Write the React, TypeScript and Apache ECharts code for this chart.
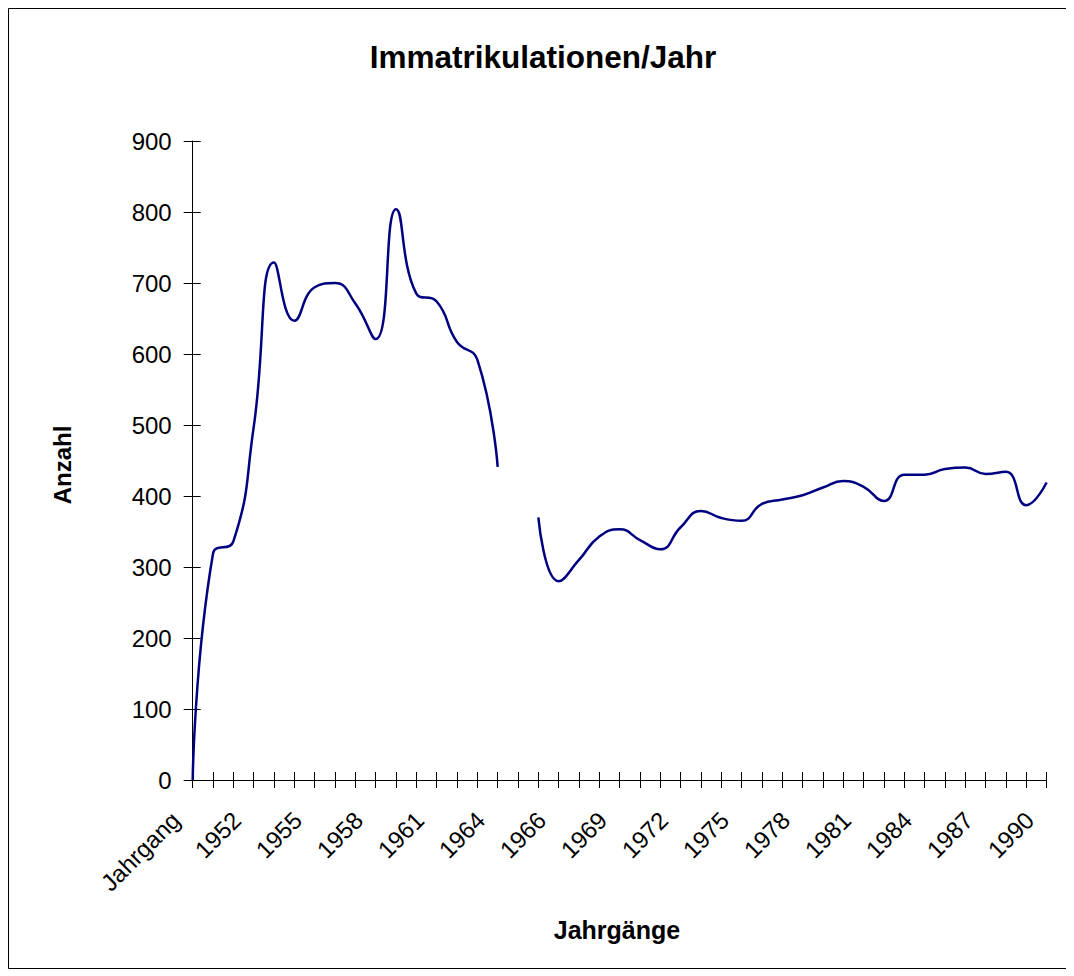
import React, { useEffect, useRef } from "react";
import * as echarts from "echarts";

const FONT = "'Liberation Sans', Arial, Helvetica, sans-serif";

const categories = [
  "Jahrgang", "1950", "1951", "1952", "1953", "1954", "1955", "1956", "1957", "1958",
  "1959", "1960", "1961", "1962", "1963", "1964", "", "1965", "1966", "1967",
  "1968", "1969", "1970", "1971", "1972", "1973", "1974", "1975", "1976", "1977",
  "1978", "1979", "1980", "1981", "1982", "1983", "1984", "1985", "1986", "1987",
  "1988", "1989", "1990",
];

const immatrikulationen: (number | null)[] = [
  0, 319, 336, 497, 729, 647, 694, 700, 671, 621,
  804, 685, 674, 617, 592, 441, null, 370, 280, 310,
  343, 353, 338, 325, 356, 379, 369, 365, 389, 395,
  401, 412, 421, 413, 393, 430, 430, 438, 440, 431,
  434, 387, 419,
];

const yMin = 0;
const yMax = 900;
const yStep = 100;

const titleText = "Immatrikulationen/Jahr";
const yTitle = "Anzahl";
const xTitle = "Jahrgänge";

export default function App() {
  const ref = useRef<HTMLDivElement>(null);
  useEffect(() => {
    if (!ref.current) return;
    const chart = echarts.init(ref.current, undefined, { renderer: "svg" });
    const axisBlack = { lineStyle: { color: "#000", width: 1 } };
    chart.setOption({
      animation: false,
      backgroundColor: "#fff",
      grid: { left: 184.7, right: 21.4, top: 133, bottom: 190, containLabel: false },
      graphic: [
        {
          type: "rect",
          shape: { x: 0.5, y: 0.5, width: 1058, height: 960 },
          style: { fill: "none", stroke: "#000", lineWidth: 1 },
          silent: true,
        },
        {
          type: "text",
          x: 535,
          y: 49,
          style: {
            text: titleText,
            fontFamily: FONT,
            fontSize: 31.5,
            fontWeight: "bold",
            fill: "#000",
            align: "center",
            verticalAlign: "middle",
          },
        },
        {
          type: "text",
          x: 54,
          y: 457,
          rotation: Math.PI / 2,
          style: {
            text: yTitle,
            fontFamily: FONT,
            fontSize: 24,
            fontWeight: "bold",
            fill: "#000",
            align: "center",
            verticalAlign: "middle",
          },
        },
        {
          type: "text",
          x: 609,
          y: 922,
          style: {
            text: xTitle,
            fontFamily: FONT,
            fontSize: 25,
            fontWeight: "bold",
            fill: "#000",
            align: "center",
            verticalAlign: "middle",
          },
        },
      ],
      xAxis: [
        {
          type: "category",
          position: "bottom",
          data: categories,
          boundaryGap: false,
          axisLine: { show: true, onZero: false, ...axisBlack },
          axisTick: { show: true, interval: 0, length: 8, inside: false, ...axisBlack },
          axisLabel: {
            interval: 2,
            rotate: 45,
            margin: 19,
            padding: [0, 24, 0, 0],
            color: "#000",
            fontFamily: FONT,
            fontSize: 24,
          },
          splitLine: { show: false },
        },
        {
          type: "category",
          position: "bottom",
          data: categories,
          boundaryGap: false,
          axisLine: { show: false, onZero: false },
          axisTick: { show: true, interval: 0, length: 8, inside: true, ...axisBlack },
          axisLabel: { show: false },
          splitLine: { show: false },
        },
      ],
      yAxis: [
        {
          type: "value",
          position: "left",
          min: yMin,
          max: yMax,
          interval: yStep,
          axisLine: { show: true, ...axisBlack },
          axisTick: { show: true, length: 9, inside: false, ...axisBlack },
          axisLabel: { margin: 21, color: "#000", fontFamily: FONT, fontSize: 24 },
          splitLine: { show: false },
        },
        {
          type: "value",
          position: "left",
          min: yMin,
          max: yMax,
          interval: yStep,
          axisLine: { show: false },
          axisTick: { show: true, length: 8, inside: true, ...axisBlack },
          axisLabel: { show: false },
          splitLine: { show: false },
        },
      ],
      series: [
        {
          type: "line",
          name: titleText,
          data: immatrikulationen,
          xAxisIndex: 0,
          yAxisIndex: 0,
          smooth: 0.5,
          showSymbol: false,
          symbol: "none",
          connectNulls: false,
          lineStyle: { color: "#000080", width: 2.5 },
          itemStyle: { color: "#000080" },
        },
      ],
    });
    return () => chart.dispose();
  }, []);
  return <div ref={ref} style={{ width: 1060, height: 962 }} />;
}
